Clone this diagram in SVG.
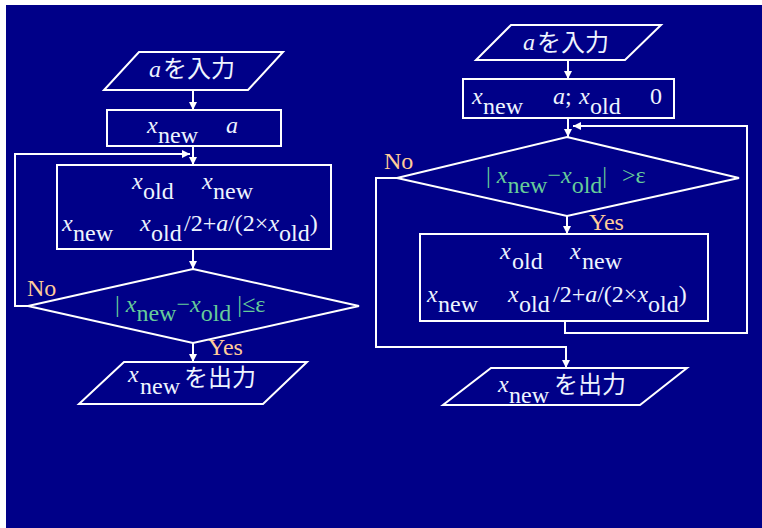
<svg xmlns="http://www.w3.org/2000/svg" width="762" height="528" viewBox="0 0 762 528">
<defs>
<style>
.shape{fill:none;stroke:#ffffff;stroke-width:2}
.conn{fill:none;stroke:#ffffff;stroke-width:2}
.t{font-family:"Liberation Serif","Times New Roman",serif;font-size:24px;fill:#eef4ff}
.i{font-style:italic}
.jp{font-family:"Noto Sans CJK JP","Noto Sans CJK SC",sans-serif;font-size:24px}
.g{fill:#66cc99}
.p{fill:#ffcc99}
</style>
<marker id="ah" markerUnits="userSpaceOnUse" markerWidth="9" markerHeight="8" refX="8" refY="4" orient="auto">
<path d="M0,0 L8,4 L0,8 z" fill="#ffffff"/>
</marker>
</defs>
<rect x="0" y="0" width="762" height="528" fill="#ffffff"/>
<rect x="6" y="5" width="756" height="523" fill="#000088"/>

<g id="connectors">
<line class="conn" x1="193" y1="90" x2="193" y2="110" marker-end="url(#ah)"/>
<line class="conn" x1="193" y1="146" x2="193" y2="165" marker-end="url(#ah)"/>
<polyline class="conn" points="28,306 15,306 15,154 190,154" marker-end="url(#ah)"/>
<line class="conn" x1="193" y1="249" x2="193" y2="269" marker-end="url(#ah)"/>
<line class="conn" x1="193" y1="343" x2="193" y2="362" marker-end="url(#ah)"/>

<line class="conn" x1="568" y1="60" x2="568" y2="79" marker-end="url(#ah)"/>
<line class="conn" x1="568" y1="118" x2="568" y2="137" marker-end="url(#ah)"/>
<polyline class="conn" points="565,321 565,333 747,333 747,126 573,126" marker-end="url(#ah)"/>
<line class="conn" x1="567" y1="216" x2="567" y2="234" marker-end="url(#ah)"/>
<polyline class="conn" points="397,178 376,178 376,347 566,347 566,368" marker-end="url(#ah)"/>
</g>

<g id="left-input">
<polygon class="shape" points="139,52 283,52 248,90 104,90"/>
<text class="t"><tspan class="i" x="149" y="77">a</tspan><tspan class="jp" x="163" y="77">を入力</tspan></text>
</g>

<g id="left-init">
<rect class="shape" x="107" y="110" width="174" height="36"/>
<text class="t"><tspan class="i" x="147" y="133">x</tspan><tspan x="158" y="143">new</tspan><tspan class="i" x="226" y="133">a</tspan></text>
</g>

<g id="left-update">
<rect class="shape" x="57" y="165" width="274" height="84"/>
<text class="t"><tspan class="i" x="132" y="189">x</tspan><tspan x="143" y="199">old</tspan><tspan class="i" x="202" y="189">x</tspan><tspan x="213" y="199">new</tspan></text>
<text class="t"><tspan class="i" x="62" y="231">x</tspan><tspan x="73" y="241">new</tspan><tspan class="i" x="140" y="231">x</tspan><tspan x="151" y="241">old</tspan><tspan x="184" y="231">/2+</tspan><tspan class="i">a</tspan><tspan>/(2×</tspan><tspan class="i">x</tspan><tspan dy="10">old</tspan><tspan dy="-10">)</tspan></text>
</g>

<g id="left-decision">
<polygon class="shape" points="193,269 359,306 193,343 28,306"/>
<text class="t g"><tspan x="115" y="312">| </tspan><tspan class="i">x</tspan><tspan dy="9">new</tspan><tspan dy="-9">−</tspan><tspan class="i">x</tspan><tspan dy="9">old</tspan><tspan dy="-9"> |≤ε</tspan></text>
<text class="t p" x="27" y="296">No</text>
<text class="t p" x="208" y="355">Yes</text>
</g>

<g id="left-output">
<polygon class="shape" points="124,362 307,362 263,404 79,404"/>
<text class="t"><tspan class="i" x="128" y="382">x</tspan><tspan x="140" y="394">new</tspan><tspan class="jp" x="184" y="386">を出力</tspan></text>
</g>

<g id="right-input">
<polygon class="shape" points="511,25 661,25 625,60 476,60"/>
<text class="t"><tspan class="i" x="523" y="50">a</tspan><tspan class="jp" x="537" y="51">を入力</tspan></text>
</g>

<g id="right-init">
<rect class="shape" x="463" y="79" width="211" height="39"/>
<text class="t"><tspan class="i" x="472" y="104">x</tspan><tspan x="483" y="114">new</tspan><tspan class="i" x="553" y="104">a</tspan><tspan>; </tspan><tspan class="i" x="579" y="104">x</tspan><tspan x="590" y="114">old</tspan><tspan x="650" y="104">0</tspan></text>
</g>

<g id="right-decision">
<polygon class="shape" points="567,137 739,178 567,216 397,178"/>
<text class="t g"><tspan x="486" y="183">| </tspan><tspan class="i">x</tspan><tspan dy="10">new</tspan><tspan dy="-10">−</tspan><tspan class="i">x</tspan><tspan dy="10">old</tspan><tspan dy="-10">|</tspan><tspan x="622" y="183">&gt;ε</tspan></text>
<text class="t p" x="384" y="169">No</text>
<text class="t p" x="589" y="230">Yes</text>
</g>

<g id="right-update">
<rect class="shape" x="420" y="234" width="288" height="87"/>
<text class="t"><tspan class="i" x="500" y="259">x</tspan><tspan x="512" y="269">old</tspan><tspan class="i" x="570" y="259">x</tspan><tspan x="582" y="269">new</tspan></text>
<text class="t"><tspan class="i" x="427" y="302">x</tspan><tspan x="438" y="312">new</tspan><tspan class="i" x="508" y="302">x</tspan><tspan x="519" y="312">old</tspan><tspan x="553" y="302">/2+</tspan><tspan class="i">a</tspan><tspan>/(2×</tspan><tspan class="i">x</tspan><tspan dy="10">old</tspan><tspan dy="-10">)</tspan></text>
</g>

<g id="right-output">
<polygon class="shape" points="491,368 687,368 640,405 443,405"/>
<text class="t"><tspan class="i" x="498" y="392">x</tspan><tspan x="509" y="403">new</tspan><tspan class="jp" x="554" y="393">を出力</tspan></text>
</g>
</svg>
